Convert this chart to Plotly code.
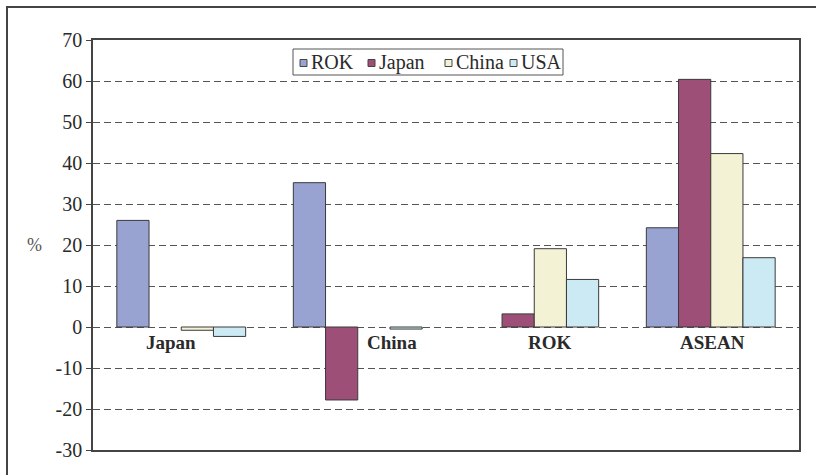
import plotly.graph_objects as go

# Destination groups and the change (%) for each source economy
categories = ["Japan", "China", "ROK", "ASEAN"]
series_names = ["ROK", "Japan", "China", "USA"]
rok = [26.0, 35.2, None, 24.2]
japan = [None, -17.8, 3.2, 60.4]
china = [-0.8, None, 19.1, 42.3]
usa = [-2.3, -0.5, 11.6, 16.9]
series_values = [rok, japan, china, usa]
colors = ["#99A3D2", "#9E4F77", "#F4F2D4", "#CBEAF4"]

tick_vals = list(range(-30, 80, 10))
tick_text = [str(v) for v in tick_vals]

# Horizontal nudges (px) for the group labels sitting under the zero line
label_shift = [-10, 34, 16, 2]

# Plot area in pixels, used to place the hand-built legend and frame
W, H = 816, 475
L, R, T, B = 93, 17, 40, 25
plot_w = W - L - R
plot_h = H - T - B


def px_x(px):
    return (px - L) / plot_w


def px_y(py):
    return (H - B - py) / plot_h


serif = "Liberation Serif"
ink = "#2a2a2a"

fig = go.Figure()
for name, vals, col in zip(series_names, series_values, colors):
    fig.add_trace(go.Bar(
        name=name, x=categories, y=vals,
        marker=dict(color=col, line=dict(color="#3a3a3a", width=1)),
        showlegend=False,
    ))

fig.update_layout(
    barmode="group",
    bargap=0.27,
    bargroupgap=0,
    width=W, height=H,
    margin=dict(l=L, r=R, t=T, b=B),
    paper_bgcolor="white",
    plot_bgcolor="white",
    font=dict(family=serif, size=19, color=ink),
    xaxis=dict(
        showticklabels=False, ticks="",
        showline=True, linecolor="#444", linewidth=1.5, mirror=True,
        showgrid=False,
    ),
    yaxis=dict(
        range=[-30, 70], tickvals=tick_vals, ticktext=tick_text,
        ticks="outside", ticklen=5, tickcolor="#444",
        showline=True, linecolor="#444", linewidth=1.5, mirror=True,
        showgrid=True, gridcolor="#555", gridwidth=1, griddash="7px,4px",
        zeroline=False,
        tickfont=dict(family=serif, size=20, color=ink),
    ),
)

# Group labels just below the zero line
for cat, dx in zip(categories, label_shift):
    fig.add_annotation(
        x=cat, y=0, xref="x", yref="y",
        text=f"<b>{cat}</b>", showarrow=False,
        xanchor="center", yanchor="top", yshift=-3, xshift=dx,
        font=dict(family=serif, size=19, color=ink),
    )

# Axis unit
fig.add_annotation(
    x=px_x(35), y=20, xref="paper", yref="y",
    text="%", showarrow=False, xanchor="center", yanchor="middle",
    font=dict(family=serif, size=18, color="#555"),
)

# Legend: framed box with small swatches followed by the series names
legend_box = dict(x0=293, x1=563, y0=49, y1=75)
swatch_left = [300, 368, 445, 510]
swatch_size = 7
legend_mid = 62
fig.add_shape(
    type="rect", xref="paper", yref="paper",
    x0=px_x(legend_box["x0"]), x1=px_x(legend_box["x1"]),
    y0=px_y(legend_box["y1"]), y1=px_y(legend_box["y0"]),
    line=dict(color="#555", width=1), fillcolor="white",
)
for name, col, sx in zip(series_names, colors, swatch_left):
    fig.add_shape(
        type="rect", xref="paper", yref="paper",
        x0=px_x(sx), x1=px_x(sx + swatch_size),
        y0=px_y(legend_mid + swatch_size / 2 + 1),
        y1=px_y(legend_mid - swatch_size / 2 + 1),
        line=dict(color="#444", width=1), fillcolor=col,
    )
    fig.add_annotation(
        x=px_x(sx + swatch_size + 2), y=px_y(legend_mid),
        xref="paper", yref="paper",
        text=name, showarrow=False, xanchor="left", yanchor="middle",
        font=dict(family=serif, size=20, color=ink),
    )

# Outer frame around the whole figure
fig.add_shape(
    type="rect", xref="paper", yref="paper",
    x0=px_x(7), x1=px_x(W + 20), y0=px_y(H + 20), y1=px_y(7),
    line=dict(color="#444", width=2), fillcolor="rgba(0,0,0,0)",
    layer="below",
)

fig.write_html("out.html")
